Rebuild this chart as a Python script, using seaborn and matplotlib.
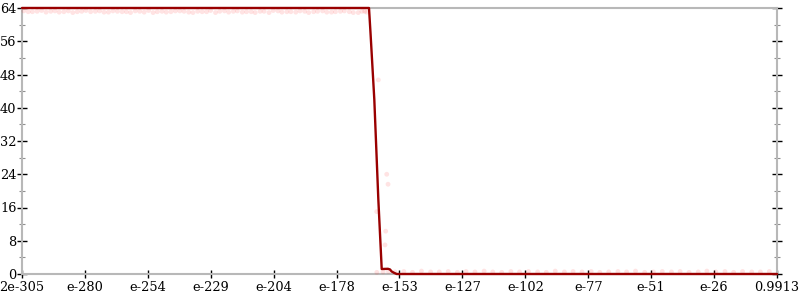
import numpy as np
import pandas as pd
import matplotlib
matplotlib.use("Agg")
import matplotlib.pyplot as plt
from matplotlib.ticker import FixedLocator, MultipleLocator, NullLocator
import seaborn as sns

# ---- data (x given as log10 exponents) ----
line_exp = [-304.7, -164.66, -164.05, -162.52, -160.90, -159.53,
            -157.0, -156.2, -155.5, -154.6, -153.48, -0.0038]
line_val = [64.0, 64.0, 58.0, 42.0, 18.0, 1.2,
            1.25, 1.1, 0.6, 0.3, 0.0, 0.0]

top_exp = [-304.0, -300.5, -296.8, -293.1, -289.7, -286.0, -282.4, -278.9, -275.1,
           -271.6, -268.0, -264.3, -260.9, -257.2, -253.6, -250.1, -246.5, -242.8,
           -239.3, -235.7, -232.0, -228.6, -224.9, -221.3, -217.8, -214.1, -210.6,
           -207.0, -203.3, -199.8, -196.2, -192.5, -189.0, -185.4, -181.7, -178.2,
           -174.6, -171.0, -167.5, -165.6,
           -302.2, -298.6, -295.0, -291.4, -287.8, -284.2, -280.6, -277.0, -273.4,
           -269.8, -266.2, -262.6, -259.0, -255.4, -251.8, -248.2, -244.6, -241.0,
           -237.4, -233.8, -230.2, -226.6, -223.0, -219.4, -215.8, -212.2, -208.6,
           -205.0, -201.4, -197.8, -194.2, -190.6, -187.0, -183.4, -179.8, -176.2,
           -172.6, -169.0, -166.4]
top_val = [63.3, 63.1, 63.4, 63.2, 63.0, 63.3, 63.1, 63.4, 63.2, 63.0,
           63.3, 63.1, 62.9, 63.2, 63.4, 63.1, 63.0, 63.3, 63.2, 62.9,
           63.1, 63.4, 63.2, 63.0, 63.3, 63.1, 62.9, 63.2, 63.4, 63.0,
           63.1, 63.3, 62.9, 63.2, 63.0, 63.1, 63.3, 62.9, 63.2, 63.0,
           63.1, 63.2, 63.0, 63.3, 63.1, 62.9, 63.2, 63.1, 63.3, 63.0,
           63.2, 63.1, 63.3, 63.0, 62.9, 63.2, 63.1, 63.3, 63.0, 63.2,
           63.1, 62.9, 63.3, 63.2, 63.0, 63.1, 63.2, 62.9, 63.3, 63.1,
           63.0, 63.2, 63.1, 63.3, 63.0, 63.2, 63.1, 62.9, 63.2]

mid_exp = [-160.9, -157.5, -156.98, -161.55, -157.92, -158.2]
mid_val = [46.7, 24.0, 21.6, 15.0, 10.3, 7.0]

bot_exp = [-161.5, -159.0, -156.8, -154.2, -150.6, -147.1, -143.5, -139.8, -136.3,
           -132.7, -129.0, -125.5, -121.9, -118.2, -114.7, -111.1, -107.4, -103.9,
           -100.3, -96.6, -93.1, -89.5, -85.8, -82.3, -78.7, -75.0, -71.5, -67.9,
           -64.2, -60.7, -57.1, -53.4, -49.9, -46.3, -42.6, -39.1, -35.5, -31.8,
           -28.3, -24.7, -21.0, -17.5, -13.9, -10.2, -6.7, -3.1]
bot_val = [0.4, 0.5, 0.6, 0.5, 0.6, 0.4, 0.7, 0.5, 0.5, 0.6, 0.4, 0.6, 0.5, 0.7,
           0.5, 0.4, 0.6, 0.5, 0.6, 0.5, 0.4, 0.7, 0.5, 0.6, 0.5, 0.6, 0.4, 0.5,
           0.6, 0.5, 0.7, 0.4, 0.5, 0.6, 0.5, 0.6, 0.4, 0.5, 0.7, 0.5, 0.6, 0.4,
           0.6, 0.5, 0.5, 0.6]

x_tick_labels = ["2e-305", "e-280", "e-254", "e-229", "e-204", "e-178", "e-153",
                 "e-127", "e-102", "e-77", "e-51", "e-26", "0.9913"]
y_ticks = [0, 8, 16, 24, 32, 40, 48, 56, 64]

# ---- frames ----
line_df = pd.DataFrame({"x": 10.0 ** np.array(line_exp), "y": line_val})
pts_df = pd.DataFrame({
    "x": 10.0 ** np.array(top_exp + mid_exp + bot_exp),
    "y": top_val + mid_val + bot_val,
})

sns.set_theme(style="white")
plt.rcParams["font.family"] = ["DejaVu Serif"]

fig = plt.figure(figsize=(8, 3), dpi=100)
ax = fig.add_axes([22 / 800, 26 / 300, 755 / 800, 266 / 300])

sns.scatterplot(data=pts_df, x="x", y="y", ax=ax, color="#ff1a1a", alpha=0.12,
                s=12, edgecolor="none", zorder=2, clip_on=False)
sns.lineplot(data=line_df, x="x", y="y", ax=ax, color="#990000", linewidth=1.7,
             zorder=4, clip_on=False, estimator=None, sort=False)

ax.set_xscale("log")
lo, hi = -304.7, np.log10(0.9913)
ax.set_xlim(10.0 ** lo, 10.0 ** hi)
ax.set_ylim(0, 64)
ax.xaxis.set_major_locator(FixedLocator(10.0 ** np.linspace(lo, hi, len(x_tick_labels))))
ax.set_xticklabels(x_tick_labels)
ax.xaxis.set_minor_locator(NullLocator())
ax.yaxis.set_major_locator(FixedLocator(y_ticks))
ax.yaxis.set_minor_locator(MultipleLocator(4))
ax.set_xlabel("")
ax.set_ylabel("")

for s in ax.spines.values():
    s.set_color("#b8b8b8")
    s.set_linewidth(1.5)
    s.set_zorder(1)

ax.tick_params(axis="y", which="major", direction="inout", length=7, width=1.0,
               color="black", left=True, right=True, labelsize=9.3, pad=0.5,
               labelcolor="black")
ax.tick_params(axis="y", which="minor", direction="inout", length=4, width=0.8,
               color="#909090", left=True, right=True)
ax.tick_params(axis="x", which="major", direction="inout", length=6, width=1.0,
               color="black", bottom=True, top=False, labelsize=9.3, pad=2.0,
               labelcolor="black")
ax.grid(False)
ax.set_facecolor("white")
fig.patch.set_facecolor("white")

fig.savefig("out.png", dpi=100, facecolor="white")
